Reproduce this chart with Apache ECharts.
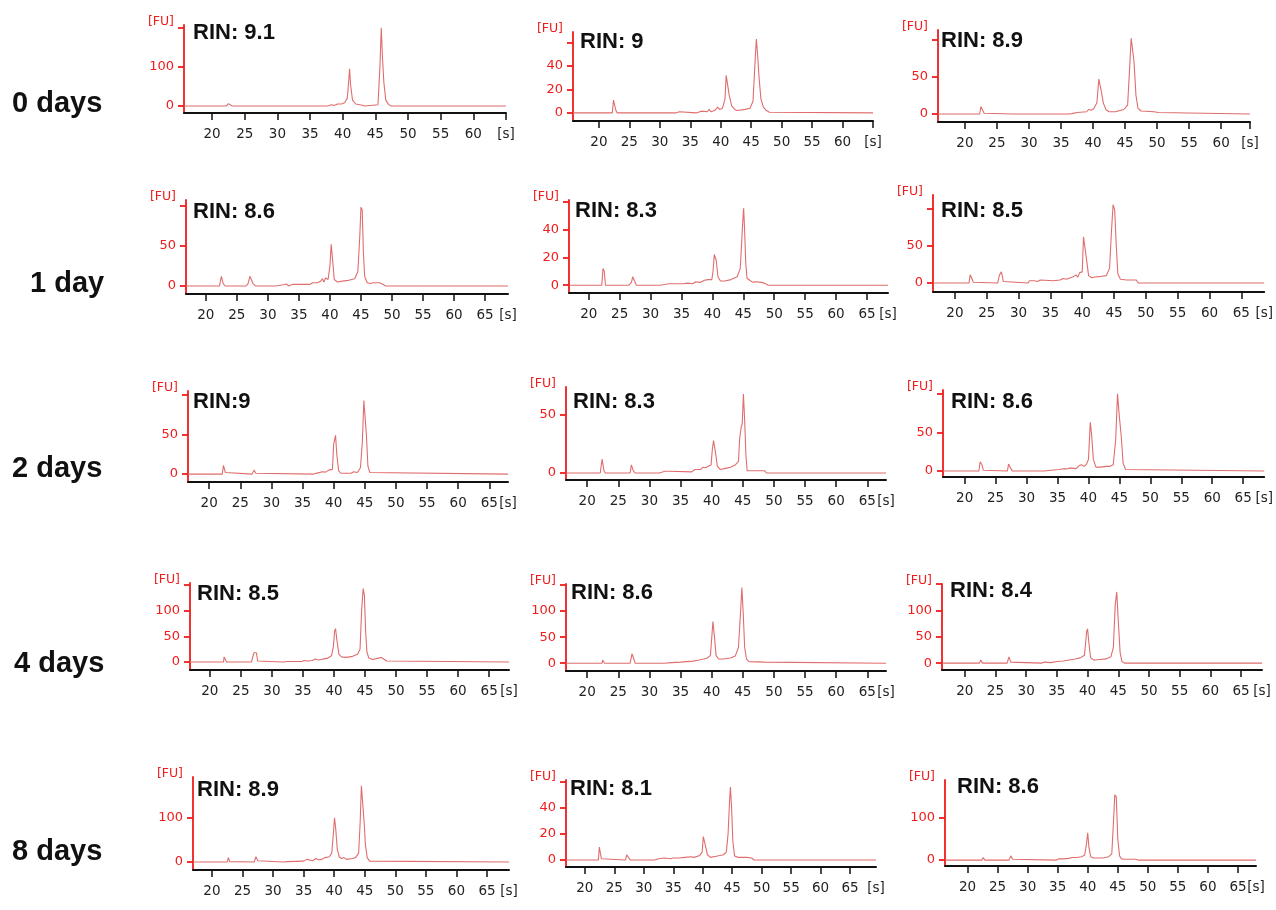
<!DOCTYPE html>
<html>
<head>
<meta charset="utf-8">
<script src="https://cdn.jsdelivr.net/npm/echarts@6/dist/echarts.min.js"></script>
<style>
  html, body { margin: 0; padding: 0; background: #fff; }
  #chart { width: 1276px; height: 910px; }
</style>
</head>
<body>
<div id="chart"></div>
<script>
// electropherogram traces, [time s, FU]
const day0A = [[15.7,0],[22.2,0],[22.5,6],[22.8,1],[23.1,0],[37.6,0],[37.9,4],[38.3,3],[38.7,1],[39.2,5],[39.5,8],[39.8,5],[40.3,8],[40.7,20],[40.9,60],[41.05,95],[41.2,55],[41.5,15],[42,5],[43,2],[43.4,0],[43.6,3],[45.4,3],[45.7,100],[45.9,200],[46.1,120],[46.3,60],[46.6,15],[47,4],[47.4,0],[65,0]];
const day0B = [[15.75,0],[22.2,0],[22.4,11],[22.6,10],[22.8,2],[23,0],[27.4,0],[27.6,1.5],[27.9,0],[32.6,0],[32.8,1.5],[33.2,1],[33.5,0],[36,0],[36.2,1.5],[36.8,1.5],[37,0.5],[37.8,1],[38.1,3],[38.4,1],[39,2],[39.5,5],[39.8,3],[40.3,4],[40.7,12],[40.9,32],[41.15,33],[41.4,15],[41.8,6],[42.3,3],[42.7,2],[43,3],[44,3],[44.8,4],[45.3,10],[45.6,40],[45.85,63],[46.05,50],[46.3,30],[46.6,12],[47,5],[47.5,2],[48,0.5],[48.3,0],[65,0]];
const day0C = [[15.8,0],[22.3,0],[22.5,10],[22.8,8],[23,1],[23.2,0],[27.5,0],[27.7,2],[28,0],[32.6,0],[32.8,2],[33.1,0],[36.2,0],[36.4,2],[36.7,0.5],[37.5,2],[39,3],[39.3,6],[39.7,5],[40.1,7],[40.6,15],[40.9,47],[41.1,46],[41.3,30],[41.6,15],[42,6],[42.5,3],[43.5,3],[43.8,5],[44.8,6],[45.4,12],[45.7,60],[45.95,102],[46.2,100],[46.4,70],[46.7,25],[47,8],[47.5,4],[49.5,3],[50.2,2],[50.5,0],[64.5,0]];
const day1A = [[16.8,0],[22.2,0],[22.5,12],[22.8,3],[23.1,0],[26.5,0],[26.8,3],[27.1,12],[27.3,14],[27.6,3],[28,0],[31.2,0],[31.4,2],[31.7,0.5],[32,2],[32.5,1.5],[33,2.5],[33.3,0],[34,2],[34.3,0],[35,2],[36.8,2],[37.2,4],[38,4],[38.5,6],[38.8,9],[39,5],[39.3,10],[39.7,8],[40,25],[40.2,52],[40.4,35],[40.7,8],[41.2,5],[42,6],[43,7],[44,9],[44.5,18],[44.8,60],[45,98],[45.2,95],[45.4,40],[45.6,12],[46,4],[46.5,3],[47,4],[48,4],[48.5,2],[49,0],[68.7,0]];
const day1B = [[16.8,0],[22.1,0],[22.3,12],[22.5,10],[22.7,0],[26.5,0],[26.9,2],[27.1,6],[27.4,5],[27.7,0],[31.5,0],[31.7,1],[33,1],[33.2,0],[35.3,1],[35.6,2],[36,1.5],[36.8,1],[37.3,2.5],[38,2],[38.7,3.5],[39.3,4],[39.6,5],[39.9,4],[40.1,10],[40.3,22],[40.6,18],[40.9,6],[41.3,3],[42,3],[43,4],[44,6],[44.5,12],[44.7,28],[44.9,45],[45.05,55],[45.2,40],[45.4,15],[45.6,5],[46.2,3],[46.6,2],[47,2.5],[48,2],[48.6,1],[49,0],[68.4,0]];
const day1C = [[16.6,0],[22.2,0],[22.4,11],[22.6,9],[22.9,1],[23.1,0],[26.7,0],[27,11],[27.3,15],[27.6,2],[27.9,0],[31.5,0],[31.7,3],[32,2],[32.5,3],[33,2],[33.4,4],[33.7,2],[35.5,3],[36.5,4],[37,6],[37.5,5],[38.5,8],[39,11],[39.3,8],[39.6,14],[40,15],[40.2,62],[40.5,60],[40.7,30],[41,10],[41.5,7],[42,8],[43,9],[43.8,10],[44.3,20],[44.6,70],[44.85,105],[45.1,98],[45.35,50],[45.6,12],[46,5],[47,4],[48.5,4],[48.8,0],[68.6,0]];
const day2A = [[16.6,0],[22.1,0],[22.3,11],[22.6,2],[22.8,0],[26.9,0],[27.2,5],[27.5,1],[27.8,0],[36.8,0],[37,2],[37.5,1.5],[38.2,3],[38.7,2.5],[39.2,5],[39.5,4],[39.8,6],[40,38],[40.3,49],[40.5,25],[40.8,4],[41.2,1],[42.8,1],[43.2,3],[43.8,2],[44.3,8],[44.6,40],[44.85,93],[45.05,95],[45.25,50],[45.5,10],[45.8,2],[46.1,0],[68,0]];
const day2B = [[16.6,0],[22.1,0],[22.4,12],[22.7,2],[22.9,0],[26.9,0],[27.1,7],[27.4,2],[27.7,0],[31.6,0],[31.9,1],[32.5,1.5],[33.2,1.5],[33.5,0],[36.8,1],[37.3,3],[38.2,3],[38.6,5],[39,4.5],[39.5,6],[39.9,7],[40.1,20],[40.3,28],[40.6,18],[40.9,6],[41.4,3],[42.2,4],[43,5],[43.8,7],[44.3,10],[44.5,30],[44.75,40],[44.9,42],[45.1,68],[45.3,45],[45.5,15],[45.7,2],[46.5,2],[48.5,2],[48.8,0],[68,0]];
const day2C = [[16.5,0],[22.3,0],[22.5,12],[22.8,8],[23,1],[23.2,0],[26.9,0],[27.1,9],[27.4,4],[27.7,0],[32.3,0],[32.5,2],[32.8,0],[35.2,2],[36,3],[36.5,2.5],[37,4],[38,3],[38.5,7],[38.9,8],[39.3,6],[39.7,9],[40,15],[40.3,63],[40.5,48],[40.8,15],[41.2,5],[42,5],[43,6],[43.5,6],[44,8],[44.4,40],[44.7,100],[45,70],[45.3,45],[45.6,10],[46,2],[46.3,0],[68.4,0]];
const day4A = [[16.8,0],[22.2,0],[22.3,10],[22.6,10],[22.7,0],[26.7,0],[26.9,3],[27.1,18],[27.5,18],[27.7,2],[28,0],[31.8,0],[32.1,3],[32.5,1],[34.8,1],[35.2,3],[35.8,2],[36.5,3],[37,6],[37.5,4],[38.3,6],[38.6,9],[38.9,7],[39.2,10],[39.6,12],[39.9,30],[40.1,60],[40.25,65],[40.5,40],[40.8,15],[41.2,10],[42,9],[43,11],[43.8,15],[44.2,25],[44.45,100],[44.7,143],[44.9,130],[45.1,60],[45.3,20],[45.6,8],[46.2,5],[47,7],[47.6,9],[48,6],[48.5,2],[48.8,0],[68.2,0]];
const day4B = [[16.6,0],[22.4,0],[22.5,6],[22.8,0],[26.9,0],[27.2,18],[27.5,8],[27.7,0],[31.8,0],[32,3],[32.4,0],[33.5,1],[35,2],[36,3],[37,4],[38,6],[38.7,8],[39.3,10],[39.8,15],[40.05,55],[40.2,80],[40.45,50],[40.7,15],[41.1,8],[42,8],[43,10],[43.8,14],[44.3,30],[44.6,90],[44.85,145],[45.05,100],[45.3,30],[45.6,8],[46,3],[48.5,2],[48.8,0],[68,0]];
const day4C = [[16.4,0],[22.4,0],[22.6,6],[22.9,0],[26.9,0],[27.2,12],[27.5,2],[27.7,0],[32.5,0],[33,2],[34,1],[35,3],[36,4],[37,6],[38,8],[38.8,10],[39.5,15],[39.85,60],[40,65],[40.2,40],[40.5,10],[41,6],[42,7],[43,8],[43.8,12],[44.2,30],[44.5,110],[44.75,135],[45,80],[45.3,20],[45.6,3],[46,0],[68.4,0]];
const day8A = [[16.9,0],[22.5,0],[22.7,10],[22.9,1],[23.1,0],[26.9,0],[27.2,12],[27.5,3],[27.8,0],[31.7,0],[32,3],[32.4,1],[35,2],[35.5,6],[35.8,2],[36.5,3],[37,8],[37.4,5],[38,6],[38.5,10],[38.8,7],[39.2,12],[39.6,20],[39.9,70],[40.05,100],[40.25,75],[40.5,30],[40.8,12],[41.2,8],[41.6,10],[42,6],[43,8],[43.5,10],[44,20],[44.25,90],[44.45,172],[44.7,170],[44.9,90],[45.1,40],[45.4,10],[45.8,2],[46.1,0],[68.6,0]];
const day8B = [[16.8,0],[22.3,0],[22.45,10],[22.6,10],[22.8,1],[23,0],[26.9,0],[27.1,4],[27.4,2],[27.7,0],[31.8,0],[32,1.5],[32.5,1],[33.5,1.5],[34.5,1],[35,1.5],[36,1.5],[37,2],[38,2.5],[38.5,2],[39.5,3.5],[39.9,6],[40.1,18],[40.25,19],[40.5,10],[40.8,4],[41.3,2],[42.5,3],[43.5,4],[44,6],[44.3,20],[44.55,45],[44.7,56],[44.9,40],[45.1,15],[45.4,3],[46,2],[47.5,2],[48.3,1.5],[48.7,0],[69.4,0]];
const day8C = [[16.3,0],[22.4,0],[22.6,6],[22.9,0],[26.9,0],[27.2,10],[27.5,2],[27.8,0],[34.8,0],[35.2,3],[36,3],[36.8,4],[37.5,6],[38.2,6],[39,8],[39.5,12],[39.8,40],[40,65],[40.2,30],[40.5,8],[41,5],[42.5,5],[43.5,8],[44,15],[44.25,80],[44.5,155],[44.75,150],[45,50],[45.3,10],[45.6,3],[46.2,2],[48,2],[48.4,0],[68,0]];

const traces = [day0A, day0B, day0C, day1A, day1B, day1C, day2A, day2B, day2C, day4A, day4B, day4C, day8A, day8B, day8C];
const rinLabels = ['RIN: 9.1', 'RIN: 9', 'RIN: 8.9', 'RIN: 8.6', 'RIN: 8.3', 'RIN: 8.5', 'RIN:9', 'RIN: 8.3', 'RIN: 8.6', 'RIN: 8.5', 'RIN: 8.6', 'RIN: 8.4', 'RIN: 8.9', 'RIN: 8.1', 'RIN: 8.6'];
const rowLabels = ['0 days', '1 day', '2 days', '4 days', '8 days'];

// y ticks / labelled y ticks for each panel
const yTicks = [[0,100,200],[0,20,40,60],[0,50,100],[0,50,100],[0,20,40,60],[0,50,100],[0,50,100],[0,50],[0,50,100],[0,50,100,150],[0,50,100,150],[0,50,100,150],[0,100],[0,20,40,60],[0,100]];
const yLabels = [[0,100],[0,20,40],[0,50],[0,50],[0,20,40],[0,50],[0,50],[0,50],[0,50],[0,50,100],[0,50,100],[0,50,100],[0,100],[0,20,40],[0,100]];
const xTicksFirstRow = [20,25,30,35,40,45,50,55,60];
const xTicks = [20,25,30,35,40,45,50,55,60,65];

// axis ranges: [xMin, xMax, yMin, yMax]
const ranges = [
  [15.7,65,-18,207],[15.75,65,-6.9,69],[15.8,64.5,-10.8,113],
  [16.8,68.7,-10,107],[16.8,68.4,-5.6,61],[16.55,68.6,-12,118],
  [16.6,68,-10,105],[16.6,68,-6,74],[16.5,68.4,-7.8,105],
  [16.8,68.2,-15.6,154],[16.6,68,-15,152],[16.3,68.4,-13,150],
  [16.9,68.6,-18,192],[16.8,69.4,-5.4,61.5],[16.25,68,-14,190]
];
// plot boxes in px: [left, top, right, bottom]
const boxes = [
  [184,25,506,113],[573,32,873,121],[938,30,1250,122],
  [186,200,508,294],[569,200,888,293],[933,195,1265,292],
  [188,391,508,482],[566,387,886,480],[943,390,1265,477],
  [190,583,509,670],[566,584,886,671],[942,584,1262,670],
  [193,777,509,870],[566,780,876,867],[945,780,1256,866]
];
const rinPos = [
  [193,22],[580,31],[941,30],
  [193,201],[575,200],[941,200],
  [193,391],[573,391],[951,391],
  [197,583],[571,582],[950,580],
  [197,779],[570,778],[957,776]
];
const rowPos = [[12,89],[30,269],[12,454],[14,649],[12,837]];

const RED = '#f01c1c';
const grid = [], xAxis = [], yAxis = [], series = [], title = [];

traces.forEach((data, i) => {
  const [l, t, r, b] = boxes[i];
  const [x0, x1, y0, y1] = ranges[i];
  const firstRow = i < 3;
  grid.push({ left: l, top: t, width: r - l, height: b - t });
  xAxis.push({
    type: 'value', gridIndex: i, min: x0, max: x1,
    splitLine: { show: false },
    axisLine: { onZero: false, lineStyle: { color: '#111', width: 2 } },
    axisTick: { customValues: firstRow ? xTicksFirstRow.concat([x1]) : xTicks, length: 7, lineStyle: { color: '#111', width: 1.5 } },
    axisLabel: {
      customValues: (firstRow ? xTicksFirstRow : xTicks).concat([x1]),
      showMinLabel: true, showMaxLabel: true,
      formatter: v => Math.abs(v - x1) < 1e-6 ? '[s]' : String(v),
      color: '#222', fontSize: 13.5, fontFamily: 'DejaVu Sans', margin: 14
    }
  });
  yAxis.push({
    type: 'value', gridIndex: i, min: y0, max: y1,
    name: '[FU]', nameLocation: 'end', nameGap: 3,
    nameTextStyle: { color: RED, fontSize: 12.5, fontFamily: 'DejaVu Sans', align: 'right', verticalAlign: 'middle', padding: [0, 10, 0, 0] },
    splitLine: { show: false },
    axisLine: { onZero: false, lineStyle: { color: RED, width: 1.8 } },
    axisTick: { customValues: yTicks[i], length: 6, lineStyle: { color: RED, width: 1.8 } },
    axisLabel: {
      customValues: yLabels[i], showMinLabel: true, showMaxLabel: true,
      color: RED, fontSize: 13, fontFamily: 'DejaVu Sans', margin: 10
    }
  });
  series.push({
    type: 'line', xAxisIndex: i, yAxisIndex: i, data: data,
    symbol: 'none', lineStyle: { color: '#e06d6d', width: 1.1 }
  });
  title.push({
    text: rinLabels[i], left: rinPos[i][0], top: rinPos[i][1], padding: 0,
    textStyle: { fontFamily: 'Liberation Sans', fontWeight: 'bold', fontSize: 22, color: '#111' }
  });
});

rowLabels.forEach((txt, k) => {
  title.push({
    text: txt, left: rowPos[k][0], top: rowPos[k][1], padding: 0,
    textStyle: { fontFamily: 'Liberation Sans', fontWeight: 'bold', fontSize: 29, color: '#111' }
  });
});

const chart = echarts.init(document.getElementById('chart'));
chart.setOption({
  animation: false,
  backgroundColor: '#fff',
  title, grid, xAxis, yAxis, series
});
</script>
</body>
</html>
